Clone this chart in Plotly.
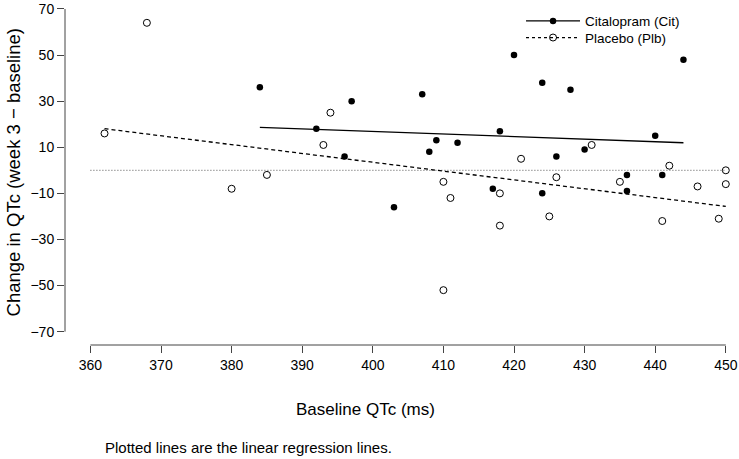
import numpy as np
import plotly.graph_objects as go

# ---- data ----
cit_baseline = [384, 392, 396, 397, 403, 407, 408, 409, 412, 417, 418,
                420, 424, 424, 426, 428, 430, 436, 436, 440, 441, 444]
cit_change = [36, 18, 6, 30, -16, 33, 8, 13, 12, -8, 17,
              50, 38, -10, 6, 35, 9, -2, -9, 15, -2, 48]
plb_baseline = [362, 368, 380, 385, 393, 394, 410, 410, 411, 418, 418,
                421, 425, 426, 431, 435, 441, 442, 446, 449, 450, 450]
plb_change = [16, 64, -8, -2, 11, 25, -5, -52, -12, -10, -24,
              5, -20, -3, 11, -5, -22, 2, -7, -21, 0, -6]

x_ticks = [360, 370, 380, 390, 400, 410, 420, 430, 440, 450]
y_ticks = [-70, -50, -30, -10, 10, 30, 50, 70]
ref_level = 0

labels = {"cit": "Citalopram (Cit)", "plb": "Placebo (Plb)"}
x_title = "Baseline QTc (ms)"
y_title = "Change in QTc (week 3 \u2212 baseline)"
footnote = "Plotted lines are the linear regression lines."

FONT = "Arial, 'Liberation Sans', Helvetica, sans-serif"

X_RANGE = [356.4, 451.87]
Y_RANGE = [-75.8, 73.9]


def fit_line(x, y):
    b, a = np.polyfit(x, y, 1)
    xs = np.array([min(x), max(x)], dtype=float)
    return xs, a + b * xs


def to_paper(v, rng):
    return (v - rng[0]) / (rng[1] - rng[0])


fig = go.Figure()

# reference line at zero
fig.add_trace(go.Scatter(x=[x_ticks[0], x_ticks[-1]], y=[ref_level, ref_level],
                         mode="lines", line=dict(color="#555", width=1, dash="1px,2px"),
                         showlegend=False, hoverinfo="skip"))

# regression lines
cx, cy = fit_line(cit_baseline, cit_change)
px_, py_ = fit_line(plb_baseline, plb_change)
fig.add_trace(go.Scatter(x=cx, y=cy, mode="lines",
                         line=dict(color="black", width=1.3),
                         showlegend=False, hoverinfo="skip"))
fig.add_trace(go.Scatter(x=px_, y=py_, mode="lines",
                         line=dict(color="black", width=1.3, dash="4px,3px"),
                         showlegend=False, hoverinfo="skip"))

# points
fig.add_trace(go.Scatter(x=cit_baseline, y=cit_change, mode="markers",
                         marker=dict(symbol="circle", size=6.5, color="black"),
                         showlegend=False))
fig.add_trace(go.Scatter(x=plb_baseline, y=plb_change, mode="markers",
                         marker=dict(symbol="circle-open", size=7, color="black",
                                     line=dict(width=1)),
                         showlegend=False))

# legend entries (one legend per row for exact placement)
fig.add_trace(go.Scatter(x=[None], y=[None], mode="lines+markers", name=labels["cit"],
                         line=dict(color="black", width=1.3),
                         marker=dict(symbol="circle", size=6.5, color="black"),
                         legend="legend"))
fig.add_trace(go.Scatter(x=[None], y=[None], mode="lines+markers", name=labels["plb"],
                         line=dict(color="black", width=1.3, dash="3px,3px"),
                         marker=dict(symbol="circle-open", size=7, color="black",
                                     line=dict(width=1)),
                         legend="legend2"))

W, H = 739, 459
L, R, T, B = 65, 0, 0, 114

# axis lines in R style (only spanning the tick range)
fig.add_shape(type="line", xref="paper", yref="paper",
              x0=to_paper(x_ticks[0], X_RANGE), x1=to_paper(x_ticks[-1], X_RANGE),
              y0=0, y1=0, line=dict(color="#444", width=1))
fig.add_shape(type="line", xref="paper", yref="paper", x0=0, x1=0,
              y0=to_paper(y_ticks[0], Y_RANGE), y1=to_paper(y_ticks[-1], Y_RANGE),
              line=dict(color="#444", width=1))

leg_common = dict(xanchor="left", yanchor="top", bgcolor="rgba(0,0,0,0)",
                  font=dict(size=13.5, family=FONT), itemwidth=54)

fig.update_layout(
    width=W, height=H,
    margin=dict(l=L, r=R, t=T, b=B, autoexpand=False),
    paper_bgcolor="white", plot_bgcolor="white",
    font=dict(family=FONT, color="black", size=14),
    showlegend=True,
    legend=dict(x=0.6766, y=0.9835, **leg_common),
    legend2=dict(x=0.6766, y=0.9355, **leg_common),
    xaxis=dict(range=X_RANGE, tickvals=x_ticks, ticks="outside", ticklen=7,
               tickcolor="#444", showline=False, showgrid=False, zeroline=False,
               tickfont=dict(size=14)),
    yaxis=dict(range=Y_RANGE, tickvals=y_ticks, ticks="outside", ticklen=7,
               tickcolor="#444", showline=False, showgrid=False, zeroline=False,
               tickfont=dict(size=14)),
)

fig.add_annotation(text=y_title, xref="paper", yref="paper", x=-0.0757, y=0.5,
                   xanchor="center", yanchor="middle", textangle=-90, showarrow=False,
                   font=dict(size=18.5))
fig.add_annotation(text=x_title, xref="x", yref="paper", x=399, y=-0.188,
                   xanchor="center", yanchor="middle", showarrow=False,
                   font=dict(size=17))
fig.add_annotation(text=footnote, xref="paper", yref="paper", x=0.0564, y=-0.2957,
                   xanchor="left", yanchor="middle", showarrow=False,
                   font=dict(size=15))

fig.write_html("out.html",
               config={"displayModeBar": False},
               post_script="document.body.style.margin='0';"
                           "document.body.style.overflow='hidden';")
